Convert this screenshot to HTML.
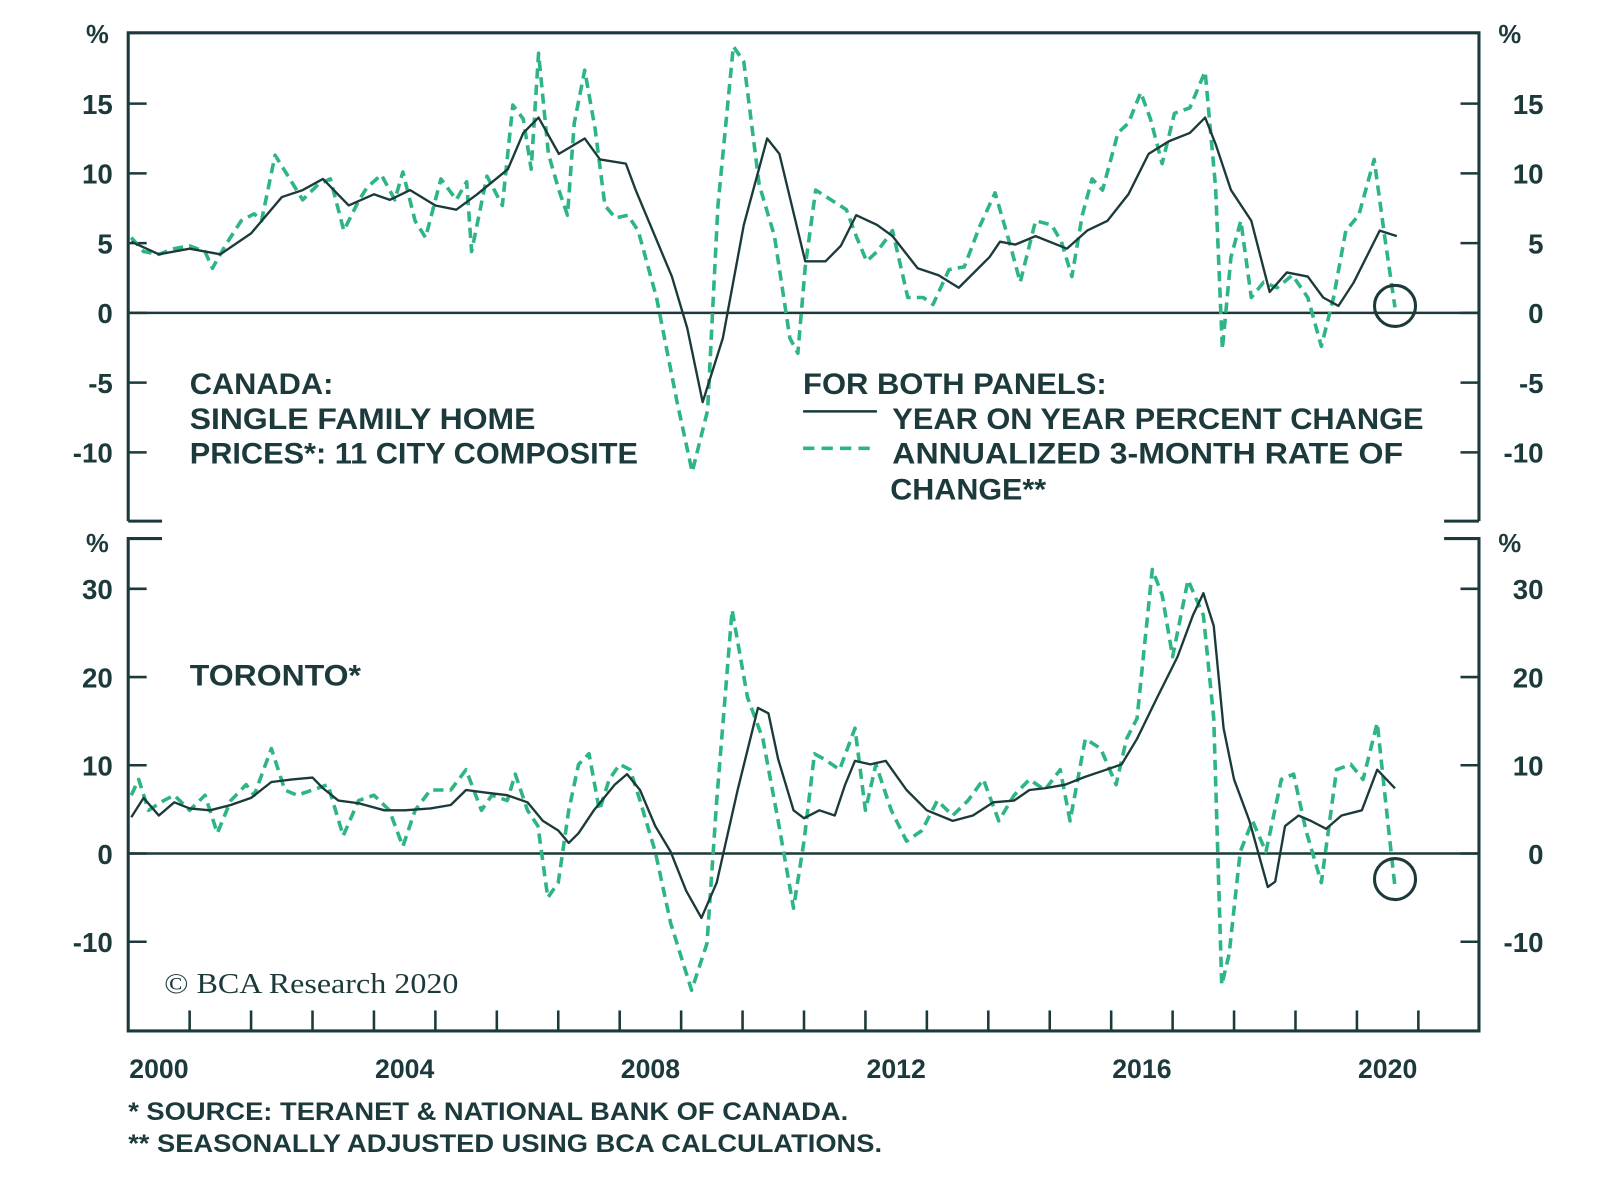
<!DOCTYPE html>
<html><head><meta charset="utf-8"><style>
html,body{margin:0;padding:0;background:#fff;}
svg{display:block;}
text{font-family:"Liberation Sans",sans-serif;font-weight:bold;fill:#1c3a3b;}
</style></head><body>
<svg id="chart" width="1600" height="1191" viewBox="0 0 1560 1161" preserveAspectRatio="none" xmlns="http://www.w3.org/2000/svg">
<g id="frame"></g>
<g id="marks"></g>
<g id="labels">
<text x="185" y="384" font-size="29" textLength="140" lengthAdjust="spacingAndGlyphs">CANADA:</text>
<text x="185" y="418" font-size="29" textLength="337" lengthAdjust="spacingAndGlyphs">SINGLE FAMILY HOME</text>
<text x="185" y="452" font-size="29" textLength="437" lengthAdjust="spacingAndGlyphs">PRICES*: 11 CITY COMPOSITE</text>
<text x="783" y="384" font-size="29" textLength="296" lengthAdjust="spacingAndGlyphs">FOR BOTH PANELS:</text>
<line x1="783" y1="401" x2="855" y2="401" stroke="#1c3a3b" stroke-width="2.5"/>
<text x="870" y="418" font-size="29" textLength="518" lengthAdjust="spacingAndGlyphs">YEAR ON YEAR PERCENT CHANGE</text>
<line x1="783" y1="437" x2="855" y2="437" stroke="#2db584" stroke-width="3.5" stroke-dasharray="11,7"/>
<text x="870" y="452" font-size="29" textLength="498" lengthAdjust="spacingAndGlyphs">ANNUALIZED 3-MONTH RATE OF</text>
<text x="868" y="487" font-size="29" textLength="152" lengthAdjust="spacingAndGlyphs">CHANGE**</text>
<text x="185" y="668" font-size="29" textLength="167" lengthAdjust="spacingAndGlyphs">TORONTO*</text>
<text x="160" y="968" font-size="28" style="font-family:'Liberation Serif',serif;font-weight:normal" textLength="287" lengthAdjust="spacingAndGlyphs">© BCA Research 2020</text>
<text x="125" y="1092" font-size="24" textLength="702" lengthAdjust="spacingAndGlyphs">*  SOURCE: TERANET &amp; NATIONAL BANK OF CANADA.</text>
<text x="125" y="1123" font-size="24" textLength="735" lengthAdjust="spacingAndGlyphs">** SEASONALLY ADJUSTED USING BCA CALCULATIONS.</text>
</g>
</svg>
<script>
// Canada (top panel)
const canYoyYears = [2000.05,2000.5,2001,2001.5,2002,2002.5,2002.84,2003.17,2003.59,2004,2004.26,2004.59,2005,2005.34,2005.68,2006.18,2006.43,2006.68,2007.01,2007.43,2007.68,2008.1,2008.26,2008.85,2009.1,2009.35,2009.68,2010.02,2010.4,2010.6,2011.02,2011.35,2011.6,2011.85,2012.19,2012.44,2012.85,2013.19,2013.52,2014.02,2014.19,2014.44,2014.77,2015.28,2015.61,2015.94,2016.28,2016.61,2016.94,2017.28,2017.53,2017.7,2017.95,2018.28,2018.58,2018.86,2019.2,2019.45,2019.7,2019.95,2020.37,2020.65];
const canYoyValues = [5.1,4.2,4.6,4.2,5.7,8.3,8.8,9.6,7.7,8.5,8.1,8.8,7.7,7.4,8.5,10.3,12.9,14.0,11.4,12.5,11.0,10.7,8.8,2.6,-1.1,-6.4,-1.8,6.3,12.5,11.4,3.7,3.7,4.8,7.0,6.3,5.5,3.2,2.7,1.8,4.0,5.1,4.9,5.5,4.6,5.9,6.6,8.5,11.4,12.3,12.9,14.0,12.1,8.8,6.6,1.5,2.9,2.6,1.1,0.5,2.2,5.9,5.5];
const can3mYears = [2000.05,2000.25,2000.5,2000.75,2001,2001.25,2001.37,2001.59,2001.84,2002.05,2002.17,2002.39,2002.59,2002.84,2003.09,2003.29,2003.51,2003.76,2003.89,2004.12,2004.34,2004.47,2004.67,2004.84,2005.09,2005.34,2005.51,2005.59,2005.84,2006.09,2006.26,2006.43,2006.56,2006.68,2006.84,2007.01,2007.15,2007.26,2007.43,2007.6,2007.76,2007.93,2008.13,2008.3,2008.6,2008.93,2009.18,2009.43,2009.6,2009.85,2010.02,2010.27,2010.52,2010.77,2010.9,2011.02,2011.19,2011.44,2011.69,2011.85,2012.02,2012.19,2012.44,2012.69,2012.94,2013.1,2013.36,2013.61,2013.86,2014.11,2014.36,2014.52,2014.77,2015.03,2015.19,2015.36,2015.53,2015.69,2015.86,2016.11,2016.28,2016.48,2016.64,2016.83,2017.03,2017.28,2017.53,2017.7,2017.81,2017.95,2018.11,2018.28,2018.48,2018.7,2018.95,2019.2,2019.42,2019.62,2019.82,2020.03,2020.28,2020.45,2020.62];
const can3mValues = [5.4,4.4,4.2,4.6,4.8,4.4,3.2,4.9,6.6,7.1,6.6,11.3,9.9,8.1,9.2,9.6,5.9,8.1,9.0,9.9,8.1,10.1,6.6,5.4,9.6,8.1,9.4,4.4,9.8,7.7,14.9,13.9,10.3,18.6,11.4,8.8,7.0,13.6,17.4,13.2,7.7,6.8,7.0,5.9,1.1,-6.3,-11.4,-7.0,7.7,19.1,18.0,9.2,5.5,-1.8,-2.9,3.3,8.8,8.1,7.4,5.5,3.7,4.4,5.9,1.1,1.1,0.6,3.1,3.3,6.2,8.6,4.8,2.2,6.6,6.3,5.1,2.6,7.0,9.6,8.8,12.9,13.6,15.8,13.9,10.7,14.3,14.7,17.3,9.0,-2.6,4.0,6.6,1.1,2.2,1.8,2.7,1.1,-2.4,1.1,5.9,7.0,11.0,5.5,0.4];
// Toronto (bottom panel)
const torYoyYears = [2000.05,2000.25,2000.5,2000.75,2001,2001.33,2001.67,2002,2002.33,2002.67,2003,2003.17,2003.42,2003.75,2004.17,2004.5,2004.92,2005.25,2005.5,2005.83,2006.17,2006.5,2006.75,2007,2007.17,2007.33,2007.58,2007.92,2008.12,2008.33,2008.58,2008.83,2009.08,2009.33,2009.58,2009.92,2010.25,2010.42,2010.58,2010.83,2011,2011.25,2011.5,2011.67,2011.83,2012.08,2012.33,2012.67,2013,2013.42,2013.75,2014.08,2014.42,2014.67,2014.92,2015.25,2015.58,2015.92,2016.17,2016.42,2016.75,2017.08,2017.33,2017.5,2017.67,2017.83,2018,2018.25,2018.55,2018.67,2018.83,2019.05,2019.25,2019.5,2019.75,2020.08,2020.33,2020.62];
const torYoyValues = [4.1,6.3,4.3,5.8,5.1,4.9,5.5,6.3,8.1,8.4,8.6,7.4,6.0,5.7,4.9,4.9,5.1,5.5,7.2,6.9,6.6,5.8,3.7,2.6,1.2,2.3,4.9,7.8,9.0,7.2,3.1,0.2,-4.2,-7.3,-3.3,7.2,16.5,15.9,10.7,4.9,4.0,4.9,4.3,7.8,10.5,10.1,10.5,7.2,4.9,3.7,4.3,5.8,6.0,7.2,7.4,7.8,8.7,9.5,10.1,13.0,17.7,22.3,27.0,29.5,25.8,14.2,8.4,3.7,-3.8,-3.2,3.1,4.3,3.7,2.8,4.3,4.9,9.5,7.4];
const tor3mYears = [2000.05,2000.17,2000.33,2000.58,2000.75,2001,2001.25,2001.45,2001.67,2001.92,2002.05,2002.33,2002.55,2002.75,2003,2003.25,2003.5,2003.75,2004,2004.25,2004.47,2004.67,2004.92,2005.25,2005.5,2005.75,2005.92,2006.17,2006.3,2006.5,2006.67,2006.83,2007,2007.17,2007.33,2007.5,2007.67,2007.83,2008,2008.17,2008.33,2008.58,2008.83,2009.17,2009.42,2009.58,2009.83,2010.08,2010.33,2010.58,2010.83,2011,2011.17,2011.33,2011.58,2011.83,2012,2012.17,2012.42,2012.67,2012.92,2013.17,2013.42,2013.67,2013.92,2014.17,2014.42,2014.67,2014.92,2015.17,2015.33,2015.58,2015.83,2016.08,2016.25,2016.42,2016.67,2016.83,2017,2017.25,2017.5,2017.67,2017.8,2017.92,2018.1,2018.3,2018.52,2018.77,2018.97,2019.17,2019.42,2019.67,2019.9,2020.1,2020.33,2020.5,2020.62];
const tor3mValues = [6.6,8.4,4.9,6.0,6.6,4.9,6.6,2.3,6.0,7.8,6.6,11.9,7.2,6.6,7.2,7.8,2.0,6.0,6.6,4.9,0.8,4.9,7.2,7.2,9.5,4.9,6.6,6.0,9.0,4.9,3.1,-5.0,-3.3,4.9,10.1,11.3,4.9,8.4,10.1,9.5,6.0,0.2,-7.9,-15.5,-10.2,6.0,27.6,17.7,13.0,3.7,-6.2,1.4,11.3,10.7,9.5,14.2,4.9,10.1,4.9,1.4,2.6,6.0,4.3,6.0,8.4,3.7,6.6,8.4,7.2,9.5,3.7,13.0,11.9,7.8,13.0,15.3,32.2,29.3,22.3,31.0,27.0,15.3,-14.9,-11.4,0.2,3.7,0.2,8.4,9.0,2.6,-3.3,9.5,10.1,8.4,14.8,3.7,-3.8];
const topTicks = [15,10,5,0,-5,-10];
const bottomTicks = [30,20,10,0,-10];
const yearLabels = ["2000","2004","2008","2012","2016","2020"];
const yearLabelValues = [2000,2004,2008,2012,2016,2020];

const NS = "http://www.w3.org/2000/svg";
const L = 125, R = 1442, TOP = 32, TOPBOT = 508, BTOP = 525, AXIS = 1005;
const x = t => L + (t - 2000) * 59.9;
const yTop = v => 305 - v * 13.6;
const yBot = v => 832 - v * 8.6;
const DARK = "#1c3a3b", GREEN = "#2db584";
function mk(tag, attrs, parent) {
  const e = document.createElementNS(NS, tag);
  for (const k in attrs) e.setAttribute(k, attrs[k]);
  parent.appendChild(e);
  return e;
}
const frame = document.getElementById("frame");
const marks = document.getElementById("marks");
const labels = document.getElementById("labels");

let p = mk("path", {d:`M${L},${TOPBOT} L${L},${TOP} L${R},${TOP} L${R},${TOPBOT} M${L},${TOPBOT} L158,${TOPBOT} M${R},${TOPBOT} L1408,${TOPBOT}`, fill:"none", stroke:DARK, "stroke-width":3}, frame);


p = mk("path", {d:`M158,${BTOP} L${L},${BTOP} L${L},${AXIS} L${R},${AXIS} L${R},${BTOP} L1408,${BTOP}`, fill:"none", stroke:DARK, "stroke-width":3}, frame);


p = mk("line", {x1:L, x2:R, y1:yTop(0), y2:yTop(0), stroke:DARK, "stroke-width":2.5}, frame);


p = mk("line", {x1:L, x2:R, y1:yBot(0), y2:yBot(0), stroke:DARK, "stroke-width":2.5}, frame);



function yTicks(ticks, yf, panel) {
  ticks.forEach(v => {
    const yy = yf(v);
    let t = mk("line", {x1:L, x2:L+18, y1:yy, y2:yy, stroke:DARK, "stroke-width":2.5}, frame);
    
    
    t = mk("line", {x1:R-18, x2:R, y1:yy, y2:yy, stroke:DARK, "stroke-width":2.5}, frame);
    
    
    let tx = mk("text", {x:110, y:yy+10, "font-size":27, "text-anchor":"end"}, labels);
    tx.textContent = String(v);
    
    
    tx = mk("text", {x:1505, y:yy+10, "font-size":27, "text-anchor":"end"}, labels);
    tx.textContent = String(v);
    
    
  });
}
yTicks(topTicks, yTop, "top");
yTicks(bottomTicks, yBot, "bottom");
[[95,42],[1472,42],[95,538],[1472,538]].forEach(([px,py]) => {
  const tx = mk("text", {x:px, y:py, "font-size":25, "text-anchor":"middle", "font-weight":"normal"}, labels);
  tx.textContent = "%";
  
  
});
for (let yr = 2001; yr <= 2021; yr++) {
  const t = mk("line", {x1:x(yr), x2:x(yr), y1:AXIS-20, y2:AXIS, stroke:DARK, "stroke-width":2.5}, frame);
  
  
}
yearLabels.forEach((lab, i) => {
  const tx = mk("text", {x:x(yearLabelValues[i] + 0.5), y:1051, "font-size":26, "text-anchor":"middle"}, labels);
  tx.textContent = lab;
  
  
});

function line(ts, vs, yf, dashed, name) {
  const n = Math.min(ts.length, vs.length);
  let d = "";
  for (let i = 0; i < n; i++) d += (i ? "L" : "M") + x(ts[i]).toFixed(1) + "," + yf(vs[i]).toFixed(1);
  const e = mk("path", {d:d, fill:"none", stroke: dashed ? GREEN : DARK, "stroke-width": dashed ? 3.5 : 2.3, "stroke-dasharray": dashed ? "10,6" : "none", "stroke-linejoin":"round"}, marks);
  
  
}
line(can3mYears, can3mValues, yTop, true, 'canada-3m-annualized-line');
line(canYoyYears, canYoyValues, yTop, false, 'canada-yoy-line');
line(tor3mYears, tor3mValues, yBot, true, 'toronto-3m-annualized-line');
line(torYoyYears, torYoyValues, yBot, false, 'toronto-yoy-line');

let c = mk("circle", {cx:x(can3mYears[can3mYears.length-1]), cy:yTop(0.5), r:20, fill:"none", stroke:DARK, "stroke-width":3}, marks);


c = mk("circle", {cx:x(tor3mYears[tor3mYears.length-1]), cy:yBot(-2.9), r:20, fill:"none", stroke:DARK, "stroke-width":3}, marks);


</script>
</body></html>
